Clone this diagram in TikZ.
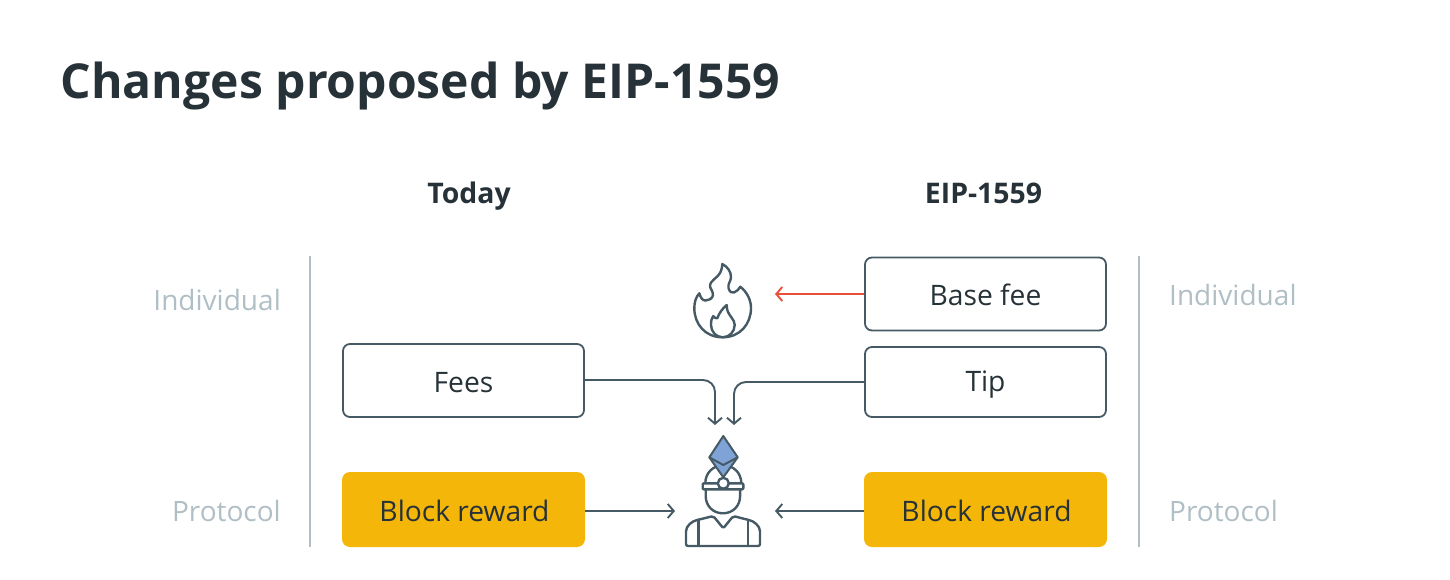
\documentclass[tikz,border=0pt]{standalone}
\usepackage{fontspec}
\setmainfont{Open Sans}
\usetikzlibrary{arrows.meta}
\definecolor{ink}{HTML}{263238}
\definecolor{slateline}{HTML}{455A64}
\definecolor{mutedgrey}{HTML}{B0BEC5}
\definecolor{gold}{HTML}{F5B60A}
\definecolor{ethblue}{HTML}{7FA3D6}
\definecolor{firered}{HTML}{E8503A}
\tikzset{
  x=1pt,y=-1pt,
  box/.style={draw=slateline,line width=1.8pt,rounded corners=7pt,minimum width=241pt,minimum height=73pt,inner sep=0pt,text=ink,font=\fontsize{28.2}{30}\selectfont,text height=24pt,text depth=0pt},
  goldbox/.style={fill=gold,rounded corners=8pt,minimum width=243pt,minimum height=75pt,inner sep=0pt,text=ink,font=\fontsize{28.2}{30}\selectfont,text height=24pt,text depth=0pt},
  sidelabel/.style={text=mutedgrey,font=\fontsize{28}{30}\selectfont,inner sep=0pt,text height=20pt,text depth=0pt},
  head/.style={text=ink,font=\bfseries\fontsize{28.4}{30}\selectfont,inner sep=0pt,text height=22pt,text depth=0pt},
  link/.style={draw=slateline,line width=1.9pt,rounded corners=12pt,-{Straight Barb[length=6pt,width=14pt,line width=1.9pt]}},
  icon/.style={draw=slateline,line width=2.4pt,line join=round},
  rulerline/.style={draw=mutedgrey,line width=1.6pt},
}
\begin{document}
\begin{tikzpicture}
\useasboundingbox (0,0) rectangle (1450,580);
\node[anchor=base west,text=ink,inner sep=0pt,font=\bfseries\fontsize{48.1}{56}\selectfont] (title) at (60.5,99) {Changes proposed by EIP-1559};
\node[head] (today) at (469,193) {Today};
\node[head] (eip) at (983.5,193) {EIP-1559};
\node[sidelabel,anchor=east] (indl) at (281,300) {Individual};
\node[sidelabel,anchor=east] (protl) at (281,511) {Protocol};
\node[sidelabel,anchor=west] (indr) at (1169,295) {Individual};
\node[sidelabel,anchor=west] (protr) at (1169,511) {Protocol};
\draw[rulerline] (310,256) -- (310,547);
\draw[rulerline] (1139,256) -- (1139,547);
\node[box] (fees) at (463.5,380.5) {Fees};
\node[box,minimum height=70pt,text height=18pt] (tip) at (985.5,382) {Tip};
\node[box,text height=23pt] (base) at (985.5,294) {Base fee};
\node[goldbox] (brl) at (463.5,509.5) {\hspace*{2pt}Block reward};
\node[goldbox] (brr) at (985.5,509.5) {\hspace*{2pt}Block reward};
% flame
\draw[icon] (722.7,337.3) .. controls (705,337.3) and (694.3,324) .. (694.3,308)
  .. controls (694.3,302) and (696,297) .. (699.3,293.3)
  .. controls (701,299) and (703,301) .. (706.7,300.3)
  .. controls (712,299.5) and (714,296) .. (712.5,292)
  .. controls (711,288) and (708.5,287) .. (711,282.5)
  .. controls (714,278) and (722,276) .. (722.3,264)
  .. controls (728,267) and (731,272) .. (731,277)
  .. controls (731,281) and (727.5,284) .. (728.5,288)
  .. controls (729.5,292) and (732,293.5) .. (734,292.5)
  .. controls (737,291.5) and (739,289) .. (740.3,286.7)
  .. controls (747,292) and (751,300) .. (751,308)
  .. controls (751,324) and (740,337.3) .. (722.7,337.3) -- cycle;
\draw[icon] (722.7,337.3) .. controls (716,337.3) and (711,331.5) .. (711,325)
  .. controls (711,321) and (711.5,318) .. (713.3,316)
  .. controls (714,317.5) and (715.5,318.5) .. (717.3,318.3)
  .. controls (719,313) and (723,308) .. (726.7,305)
  .. controls (726.5,311) and (729,314) .. (731.5,317.5)
  .. controls (733.5,320) and (734.7,322.5) .. (734.7,325)
  .. controls (734.7,331.5) and (729.5,337.3) .. (722.7,337.3);
% miner
\draw[icon] (705.3,483.3) .. controls (705.3,473) and (713,465.3) .. (723.3,465.3) .. controls (733.6,465.3) and (741.3,473) .. (741.3,483.3);
\fill[ethblue] (723.3,436) -- (737.7,457.3) -- (723.3,477.3) -- (709.3,457.3) -- cycle;
\draw[icon,line width=2pt] (723.3,436) -- (737.7,457.3) -- (723.3,477.3) -- (709.3,457.3) -- cycle;
\draw[icon,line width=2pt] (709.3,457.3) -- (723.3,465) -- (737.7,457.3);
\draw[icon,rounded corners=1pt] (702.7,483.3) rectangle (743.3,489.3);
\draw[icon,fill=white] (723.3,483.3) circle[radius=5.5];
\draw[icon] (705.7,489.3) -- (705.7,496) .. controls (705.7,506) and (713,513.3) .. (722.9,513.3) .. controls (732.8,513.3) and (740.1,506) .. (740.1,496) -- (740.1,489.3);
\draw[icon,rounded corners=2pt] (686,546) -- (686,533.3) .. controls (686,526) and (692,521) .. (699.3,519.5) -- (713.3,516) -- (723.3,528.3) -- (733.3,516) -- (746.7,519.5) .. controls (754,521) and (760,526) .. (760,533.3) -- (760,546) -- cycle;
\draw[icon] (698.3,520) -- (698.3,546);
\draw[icon] (747.7,520) -- (747.7,546);
% connectors
\coordinate (flameIn) at (775,294);
\coordinate (minerTopL) at (715,425);
\coordinate (minerTopR) at (734,425);
\coordinate (minerL) at (675,511);
\coordinate (minerR) at (775,511);
\draw[draw=firered,line width=1.9pt,-{Straight Barb[length=6pt,width=14pt,line width=1.9pt]}] (base.west) -- (flameIn);
\draw[link] (fees.east) ++(0,-0.5) -- (715,380) -- (minerTopL);
\draw[link] (tip.west) -- (734,382) -- (minerTopR);
\draw[link] (brl.east |- minerL) -- (minerL);
\draw[link] (brr.west |- minerR) -- (minerR);
\end{tikzpicture}
\end{document}
